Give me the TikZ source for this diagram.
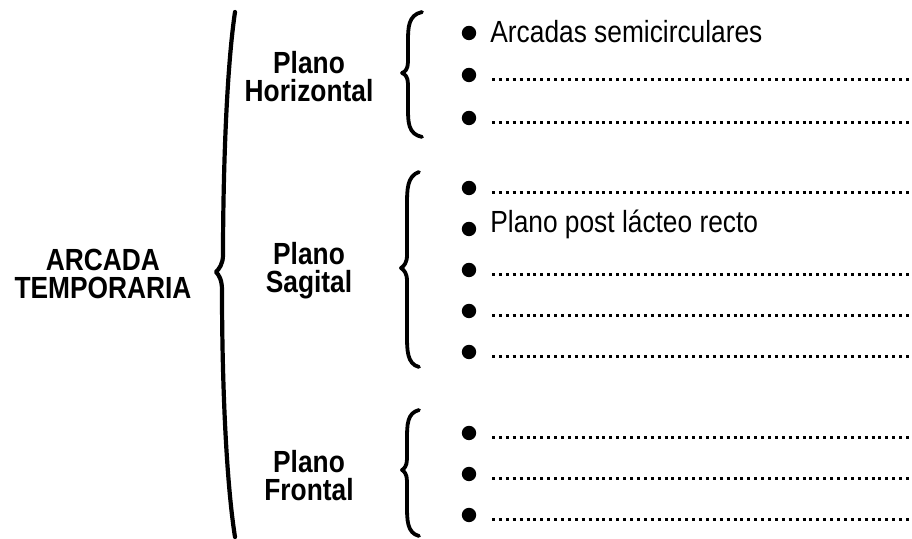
\documentclass[tikz,border=0pt]{standalone}
\usepackage{fontspec}
\setmainfont{Liberation Sans}[FakeStretch=0.86]
\usepackage{tikz}

\tikzset{
  curly/.style={line width=1.9pt, line cap=round, line join=round},
  dot/.style={circle, fill=black, inner sep=0pt, minimum size=7.2pt},
  item/.style={anchor=base west, inner sep=0pt, font=\fontsize{15.3}{18}\selectfont},
  plano/.style={align=center, inner sep=0pt, font=\fontsize{15.3}{14}\selectfont\bfseries},
  blank/.style={line width=1.5pt, dash pattern=on 1.5pt off 1.95pt}
}

\begin{document}
\begin{tikzpicture}[x=0.5pt, y=-0.5pt]
  \useasboundingbox (0,0) rectangle (912,539);
  % titles
  \node[plano] (arcada) at (103,274) {ARCADA\\TEMPORARIA};
  \node[plano] (horiz) at (309,77) {Plano\\Horizontal};
  \node[plano] (sagit) at (309,271) {Plano\\Sagital};
  \node[plano] (front) at (309,476) {Plano\\Frontal};
  % braces
  \draw[curly, line width=2.1pt] (235,12) .. controls (225,80) and (223,200) .. (223,255)
    .. controls (223,264) and (219,269) .. (216,272)
    .. controls (219,275) and (222,280) .. (222,290)
    .. controls (222,380) and (226,480) .. (235,537);
  \draw[curly] (422,12) .. controls (408,15) and (408,28) .. (408,42) -- (408,62)
    .. controls (408,69) and (405,72) .. (402,73)
    .. controls (405,74) and (408,77) .. (408,84) -- (408,108)
    .. controls (408,122) and (408,134) .. (422,137);
  \draw[curly] (419,172) .. controls (407,176) and (407,190) .. (407,205) -- (407,255)
    .. controls (407,263) and (404,266) .. (401,268)
    .. controls (404,270) and (407,273) .. (407,281) -- (407,335)
    .. controls (407,350) and (407,364) .. (419,367);
  \draw[curly] (419,410) .. controls (407,413) and (407,425) .. (407,440) -- (407,459)
    .. controls (407,466) and (404,469) .. (402,470)
    .. controls (404,471) and (407,474) .. (407,481) -- (407,505)
    .. controls (407,520) and (407,533) .. (419,536);
  % bullets
  \foreach \y [count=\i] in {33,75,118}
    \node[dot] (h\i) at (469,\y) {};
  \foreach \y [count=\i] in {188,229,270,311,352}
    \node[dot] (s\i) at (469,\y) {};
  \foreach \y [count=\i] in {433,474,515}
    \node[dot] (f\i) at (469,\y) {};
  % entries
  \node[item] (h1t) at (490,43) {Arcadas semicirculares};
  \node[item] (s2t) at (490,233) {Plano post lácteo recto};
  \foreach \n in {h2,h3,s1,s3,s4,s5,f1,f2,f3}
    \draw[blank] ([shift={(23,5)}]\n.center) -- ([shift={(443,5)}]\n.center);
\end{tikzpicture}
\end{document}
